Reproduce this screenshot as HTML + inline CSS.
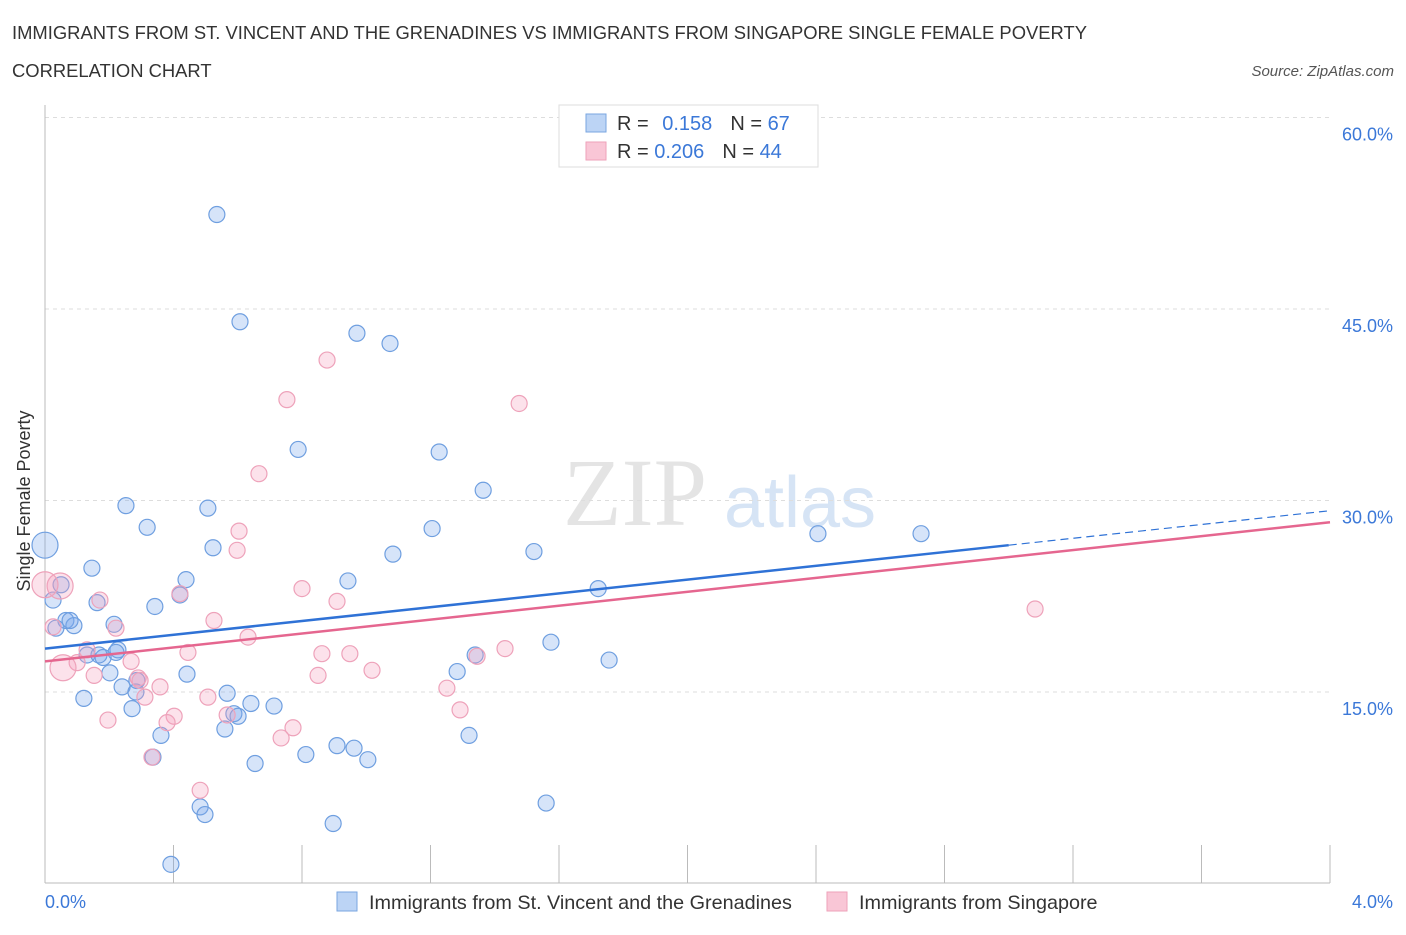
<!DOCTYPE html>
<html><head><meta charset="utf-8"><style>
body{margin:0;background:#fff;font-family:"Liberation Sans",sans-serif;}
</style></head><body>
<svg width="1406" height="930" xmlns="http://www.w3.org/2000/svg">
<text x="12" y="39" font-size="18.4" fill="#333">IMMIGRANTS FROM ST. VINCENT AND THE GRENADINES VS IMMIGRANTS FROM SINGAPORE SINGLE FEMALE POVERTY</text>
<text x="12" y="77" font-size="18.4" fill="#333">CORRELATION CHART</text>
<text x="1394" y="76" font-size="15" fill="#555" font-style="italic" text-anchor="end">Source: ZipAtlas.com</text>
<g>
<text x="635" y="525" font-size="96" font-family="Liberation Serif,serif" fill="#e4e4e4" text-anchor="middle">ZIP</text>
<text x="800" y="527" font-size="72" fill="#d6e4f5" text-anchor="middle">atlas</text>
</g>
<g id="grid"></g>
<g id="axes"></g>
<g id="marks"></g>
<g>
<rect x="559" y="105" width="259" height="62" fill="#fff" stroke="#ddd"/>
<rect x="586" y="114" width="20" height="18" fill="#bcd4f5" stroke="#7aa6e0"/>
<rect x="586" y="142" width="20" height="18" fill="#f9c6d6" stroke="#eea2ba"/>
<text x="617" y="130" font-size="20" fill="#333">R = <tspan fill="#3b78d8" dx="8">0.158</tspan><tspan dx="18" fill="#333">N = </tspan><tspan fill="#3b78d8">67</tspan></text>
<text x="617" y="158" font-size="20" fill="#333">R = <tspan fill="#3b78d8">0.206</tspan><tspan dx="18" fill="#333">N = </tspan><tspan fill="#3b78d8">44</tspan></text>
</g>
<g>
<rect x="337" y="892" width="20" height="19" fill="#bcd4f5" stroke="#7aa6e0"/>
<text x="369" y="909" font-size="19.8" fill="#333">Immigrants from St. Vincent and the Grenadines</text>
<rect x="827" y="892" width="20" height="19" fill="#f9c6d6" stroke="#eea2ba"/>
<text x="859" y="909" font-size="19.8" fill="#333">Immigrants from Singapore</text>
</g>
<text x="24" y="495" font-size="18" fill="#333" transform="rotate(-90 30 495)" text-anchor="middle">Single Female Poverty</text>
</svg>
<script>
const yTicks=[15,30,45,60];
const yTickLabels=["15.0%","30.0%","45.0%","60.0%"];
const xTickLabels=["0.0%","4.0%"];
const blueX=[0.00,0.535,0.607,0.971,1.074,0.788,1.227,1.364,0.252,0.507,0.318,1.205,0.523,1.083,1.522,2.406,2.727,0.146,0.439,0.943,0.050,1.722,0.025,0.420,0.162,0.342,0.065,0.090,0.034,0.215,1.575,0.131,0.181,0.227,1.339,1.756,1.283,0.202,0.442,0.286,0.240,0.567,0.283,0.121,0.641,0.713,0.271,0.588,0.601,0.560,0.361,1.320,0.909,0.962,0.812,1.005,0.654,0.336,0.483,1.560,0.498,0.897,0.392,0.078,0.168,0.221];
const blueY=[26.5,52.4,44.0,43.1,42.3,34.0,33.8,30.8,29.6,29.4,27.9,27.8,26.3,25.8,26.0,27.4,27.4,24.7,23.8,23.7,23.4,23.1,22.2,22.6,22.0,21.7,20.6,20.2,20.0,20.3,18.9,17.9,17.7,18.3,17.9,17.5,16.6,16.5,16.4,15.9,15.4,14.9,15.0,14.5,14.1,13.9,13.7,13.3,13.1,12.1,11.6,11.6,10.8,10.6,10.1,9.7,9.4,9.9,6.0,6.3,5.4,4.7,1.5,20.6,17.9,18.1];
const pinkX=[0.878,0.753,1.476,0.666,0.604,0.598,0.800,0.909,0.171,0.420,0.047,0.000,0.526,0.221,0.632,0.025,3.082,1.432,0.131,0.862,0.949,0.445,1.345,0.268,0.100,1.018,0.056,0.153,0.290,0.850,1.251,0.358,0.311,0.507,1.292,0.402,0.567,0.380,0.196,0.772,0.735,0.333,0.483,0.296];
const pinkY=[41.0,37.9,37.6,32.1,27.6,26.1,23.1,22.1,22.2,22.7,23.3,23.4,20.6,20.0,19.3,20.1,21.5,18.4,18.3,18.0,18.0,18.1,17.8,17.4,17.3,16.7,16.9,16.3,16.1,16.3,15.3,15.4,14.6,14.6,13.6,13.1,13.2,12.6,12.8,12.2,11.4,9.9,7.3,15.9];
const blueTrend=[18.4,29.2], blueSolidEnd=3.0;
const pinkTrend=[17.4,28.3];
const NS="http://www.w3.org/2000/svg";
const X=v=>45+v/4*1285, Y=v=>883.5-v/15*191.5;
function mk(tag,attrs,parent){const e=document.createElementNS(NS,tag);for(const k in attrs)e.setAttribute(k,attrs[k]);document.getElementById(parent).appendChild(e);return e;}
yTicks.forEach((t,i)=>{
 const g=mk('line',{x1:45,x2:1330,y1:Y(t),y2:Y(t),stroke:'#ddd','stroke-dasharray':'4,4'},'grid');
 
 
 const l=mk('text',{x:1393,y:Y(t)+23,'font-size':18,fill:'#3b78d8','text-anchor':'end'},'axes');
 l.textContent=yTickLabels[i];
 
 
});
const ya=mk('line',{x1:45,x2:45,y1:105,y2:883,stroke:'#bbb'},'axes');


const xa=mk('line',{x1:45,x2:1330,y1:883,y2:883,stroke:'#bbb'},'axes');


for(let i=0;i<=10;i++){const t=mk('line',{x1:X(i*0.4),x2:X(i*0.4),y1:845,y2:883,stroke:'#bbb'},'axes');
 
 }
[[0,'start',45],[4,'end',1393]].forEach((d,i)=>{const l=mk('text',{x:d[2],y:908,'font-size':18,fill:'#3b78d8','text-anchor':d[1]},'axes');l.textContent=xTickLabels[i];
 
 });
function pts(xs,ys,fill,stroke,name,isBig){xs.forEach((x,i)=>{const big=isBig(x,ys[i]);
 const c=mk('circle',{cx:X(x),cy:Y(ys[i]),r:big?13:8,fill:fill,stroke:stroke,'stroke-width':1.2},'marks');
 
 });}
pts(blueX,blueY,'rgba(120,165,235,0.3)','#6f9fe0','blue-point',(x,y)=>x<0.01);
pts(pinkX,pinkY,'rgba(245,160,190,0.3)','#eea2ba','pink-point',(x,y)=>x<0.06&&(y>23||Math.abs(y-16.9)<0.1));
const bs=mk('line',{x1:X(0),y1:Y(blueTrend[0]),x2:X(blueSolidEnd),y2:Y(blueTrend[0]+(blueTrend[1]-blueTrend[0])*blueSolidEnd/4),stroke:'#2f72d6','stroke-width':2.5},'marks');


const bd=mk('line',{x1:X(blueSolidEnd),y1:Y(blueTrend[0]+(blueTrend[1]-blueTrend[0])*blueSolidEnd/4),x2:X(4),y2:Y(blueTrend[1]),stroke:'#2f72d6','stroke-width':1.2,'stroke-dasharray':'8,5'},'marks');


const pl=mk('line',{x1:X(0),y1:Y(pinkTrend[0]),x2:X(4),y2:Y(pinkTrend[1]),stroke:'#e5668f','stroke-width':2.5},'marks');


</script>
</body></html>
